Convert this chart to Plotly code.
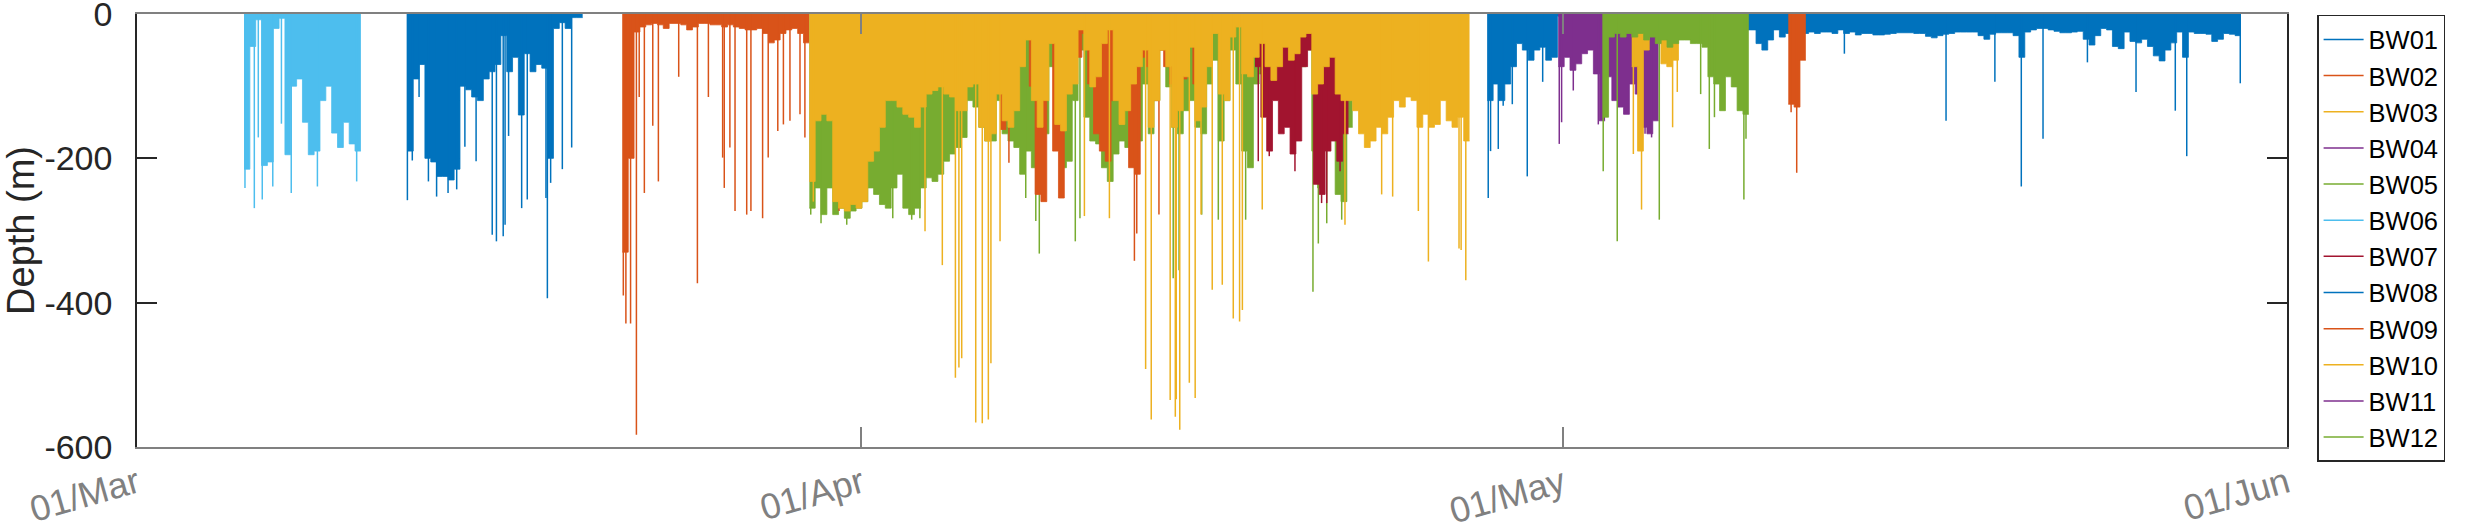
import plotly.graph_objects as go
from datetime import datetime, timedelta

# ---------------- data (days since 01/Mar, depth in m) ----------------
ORIGIN = datetime(2019, 3, 1)
BIN_DAYS = 0.25          # sampling interval of the dive-depth envelopes
X_TICKS = ["2019-03-01", "2019-04-01", "2019-05-01", "2019-06-01"]
Y_TICKS = [0, -200, -400, -600]
Y_TICK_TEXT = ["0", "-200", "-400", "-600"]

SERIES = ["BW01", "BW02", "BW03", "BW04", "BW05", "BW06",
          "BW07", "BW08", "BW09", "BW10", "BW11", "BW12"]
COLORS = ["#0072BD", "#D95319", "#EDB120", "#7E2F8E", "#77AC30", "#4DBEEE",
          "#A2142F", "#0072BD", "#D95319", "#EDB120", "#7E2F8E", "#77AC30"]

BW06_SEG_START = [4.58]
BW06_SEG_DEPTH = [[215, 45, 8, 210, 205, 20, 6, 195, 100, 90, 150, 195, 190, 120,
                   100, 165, 185, 150, 180, 190]]
BW06_SPIKE_DAY = [4.62, 5.02, 5.19, 5.36, 5.81, 6.18, 6.60, 7.72, 9.40]
BW06_SPIKE_DEPTH = [241, 269, 171, 257, 239, 152, 248, 239, 232]

BW01_SEG_START = [11.57]
BW01_SEG_DEPTH = [[190, 90, 70, 200, 205, 225, 225, 230, 215, 100, 105, 115, 120, 90,
                   80, 70, 30, 80, 60, 140, 55, 80, 70, 75, 200, 20, 12, 20, 5, 5]]
BW01_SPIKE_DAY = [11.57, 11.78, 12.07, 12.47, 12.82, 13.31, 13.68, 14.03, 14.51, 15.20,
                  15.38, 15.67, 15.75, 15.90, 16.46, 16.70, 17.50, 17.56, 17.70, 18.20, 18.60]
BW01_SPIKE_DEPTH = [258, 203, 115, 232, 253, 248, 243, 184, 204, 306,
                    315, 308, 292, 169, 269, 257, 255, 394, 234, 215, 185]

BW02_SEG_START = [20.77]
BW02_SEG_DEPTH = [[330, 200, 25, 18, 15, 13, 15, 20, 13, 13, 15, 22, 18, 13, 13, 15,
                   15, 18, 15, 18, 20, 22, 22, 20, 27, 40, 36, 27, 22, 20, 27, 40]]
BW02_SPIKE_DAY = [20.81, 20.92, 21.12, 21.37, 21.49, 21.71, 22.07, 22.31, 23.18, 23.98,
                  24.45, 25.06, 25.13, 25.37, 25.59, 26.09, 26.27, 26.77, 27.01, 27.42,
                  27.66, 27.94, 28.37, 28.58]
BW02_SPIKE_DEPTH = [390, 429, 429, 583, 115, 248, 155, 232, 87, 373,
                    115, 199, 241, 185, 273, 278, 273, 283, 199, 162,
                    153, 148, 139, 171]

BW05_SEG_START = [28.77]
BW05_SEG_DEPTH = [[269, 241, 278, 241, 278, 269, 283, 273, 269, 260, 241, 250, 264, 269,
                   241, 222, 269, 278, 269, 241, 227, 232, 222, 204, 194, 185, 171, 120,
                   129, 157, 176, 176, 120, 166, 176, 185, 222, 190, 213, 204, 166, 73,
                   180, 213, 204, 120, 50, 143, 176, 180, 213, 232, 194, 176, 185, 204,
                   176, 97, 166, 120, 50, 101, 157, 166, 134, 120, 157, 166, 97, 64,
                   176, 120, 50, 97, 190, 213, 97, 83, 106, 101, 87, 73, 73, 97, 73,
                   50, 190, 241, 185, 166, 250, 260, 157]]
BW05_SPIKE_DAY = [28.83, 29.27, 30.37, 32.34, 33.15, 33.50, 38.03, 38.46, 38.61, 40.15,
                  40.35, 44.34, 44.59, 45.56, 46.27, 47.44, 50.32, 50.55, 50.91, 51.55]
BW05_SPIKE_DEPTH = [278, 290, 292, 283, 285, 283, 255, 287, 332, 315,
                    283, 366, 355, 278, 285, 285, 385, 318, 290, 285]

BW07_SEG_START = [47.84]
BW07_SEG_DEPTH = [[73, 143, 190, 120, 166, 157, 194, 176, 73, 50, 236, 250, 190, 176, 204, 166]]
BW07_SPIKE_DAY = [47.98, 48.45, 49.55, 50.69, 50.91, 51.48]
BW07_SPIKE_DEPTH = [204, 197, 218, 262, 262, 218]

BW09_SEG_START = [36.93, 70.66]
BW09_SEG_DEPTH = [[160, 73, 50, 27, 27, 100, 250, 260, 30, 190, 255, 73, 50, 60, 27, 97,
                   166, 190, 204, 120, 73, 120, 213, 222, 60, 73, 120, 50, 73, 97, 120,
                   90, 40, 97],
                  [125, 129, 64]]
BW09_SPIKE_DAY = [30.04, 31.18, 37.31, 42.68, 42.78, 43.73, 70.78, 71.02]
BW09_SPIKE_DEPTH = [273, 180, 206, 342, 304, 278, 136, 220]

BW10_SEG_START = [28.77]
BW10_SEG_DEPTH = [[232, 148, 139, 148, 260, 269, 273, 264, 269, 260, 204, 190, 157, 120,
                   120, 129, 139, 143, 157, 129, 111, 106, 101, 111, 115, 134, 134, 101,
                   97, 157, 176, 166, 111,
                   148, 157, 134, 73, 36, 120, 157, 120, 41, 153, 162, 111, 97, 22, 50,
                   101, 87, 41, 22, 120, 153, 134, 97, 73, 50, 157, 120, 50, 73, 157,
                   134, 87, 46, 148, 129, 73, 27, 111, 120, 32, 18, 83, 87, 60, 41, 73,
                   92, 73, 46, 64, 55, 32, 27, 111, 97, 73, 60, 111, 120, 120, 134, 166,
                   185, 176, 157, 166, 143, 120, 129, 115, 120, 157, 139, 157, 153, 120,
                   148, 157, 143, 176]]
BW10_SPIKE_DAY = [28.94, 33.72, 34.46, 35.02, 35.17, 35.29, 35.89, 36.17, 36.43, 36.54,
                  36.93, 40.54, 41.61, 43.16, 43.40, 44.21, 44.43, 44.47, 44.62, 45.03,
                  45.28, 45.53, 46.01, 46.44, 46.91, 47.18, 47.30, 48.15, 51.69, 53.26,
                  53.73, 54.83, 55.26, 56.57, 56.66, 56.86]
BW10_SPIKE_DEPTH = [260, 301, 348, 504, 490, 477, 566, 567, 562, 484,
                    315, 280, 283, 492, 562, 535, 558, 534, 576, 511,
                    532, 278, 382, 375, 422, 426, 410, 271, 292, 250,
                    253, 273, 343, 325, 327, 369]

BW08_SEG_START = [57.78]
BW08_SEG_DEPTH = [[120, 97, 120, 97, 73, 41, 50, 64, 50, 46, 64, 60,
                   3, 3, 3, 3, 3, 3, 3, 3, 3, 3, 3, 3, 3, 3, 3, 3,
                   3, 3, 3, 3, 3, 3, 3, 3, 3, 3, 3, 3, 3, 3, 3, 3,
                   22, 22, 41, 50, 36, 22, 32, 27, 18, 22, 27, 25, 27, 25, 25, 27,
                   22, 27, 25, 29,
                   27, 27, 29, 29, 28, 27, 26, 26, 26, 27, 27, 31, 33, 30, 28, 27,
                   25, 25, 25, 25, 30, 35, 28, 26, 26, 26, 30, 60, 25, 22, 20, 20,
                   22, 24, 26, 26, 25, 24, 35, 43, 30, 20, 22, 45, 48, 25, 38, 40,
                   35, 45, 58, 65, 50, 40, 25, 60, 25, 27, 27, 28, 38, 35, 27, 28, 30]]
BW08_SPIKE_DAY = [57.82, 57.92, 58.25, 58.46, 58.85, 59.49, 60.15, 73.06, 77.41, 79.50,
                  80.63, 81.56, 83.46, 85.54, 87.22, 87.71, 90.00]
BW08_SPIKE_DEPTH = [255, 190, 187, 127, 125, 225, 94, 55, 148, 94,
                    239, 173, 67, 108, 134, 197, 96]

BW04_SEG_START = [60.82]
BW04_SEG_DEPTH = [[73, 60, 78, 69, 55, 50, 83, 148]]
BW04_SPIKE_DAY = [60.86, 60.96, 61.46, 62.53]
BW04_SPIKE_DEPTH = [180, 150, 106, 153]

BW11_SEG_START = [62.86]
BW11_SEG_DEPTH = [[87, 120, 129, 139, 97, 111, 157, 166, 148]]
BW11_SPIKE_DAY = [64.53, 64.81]
BW11_SPIKE_DEPTH = [166, 171]

BW03_SEG_START = [63.96]
BW03_SEG_DEPTH = [[73, 190, 50, 8, 8, 69, 73, 64, 27, 8, 36]]
BW03_SPIKE_DAY = [64.03, 64.38, 65.71, 65.91]
BW03_SPIKE_DEPTH = [194, 271, 157, 108]

BW12_SEG_START = [62.72]
BW12_SEG_DEPTH = [[143, 32, 27, 32, 27, 32, 27, 36, 32, 41, 36, 46, 41, 36, 36, 41, 41,
                   46, 87, 97, 134, 87, 101, 134, 139]]
BW12_SPIKE_DAY = [62.74, 63.34, 65.14, 66.91, 67.28, 67.50, 68.76, 68.85]
BW12_SPIKE_DEPTH = [218, 315, 285, 111, 187, 143, 257, 173]

DATA = {
    "BW01": (BW01_SEG_START, BW01_SEG_DEPTH, BW01_SPIKE_DAY, BW01_SPIKE_DEPTH),
    "BW02": (BW02_SEG_START, BW02_SEG_DEPTH, BW02_SPIKE_DAY, BW02_SPIKE_DEPTH),
    "BW03": (BW03_SEG_START, BW03_SEG_DEPTH, BW03_SPIKE_DAY, BW03_SPIKE_DEPTH),
    "BW04": (BW04_SEG_START, BW04_SEG_DEPTH, BW04_SPIKE_DAY, BW04_SPIKE_DEPTH),
    "BW05": (BW05_SEG_START, BW05_SEG_DEPTH, BW05_SPIKE_DAY, BW05_SPIKE_DEPTH),
    "BW06": (BW06_SEG_START, BW06_SEG_DEPTH, BW06_SPIKE_DAY, BW06_SPIKE_DEPTH),
    "BW07": (BW07_SEG_START, BW07_SEG_DEPTH, BW07_SPIKE_DAY, BW07_SPIKE_DEPTH),
    "BW08": (BW08_SEG_START, BW08_SEG_DEPTH, BW08_SPIKE_DAY, BW08_SPIKE_DEPTH),
    "BW09": (BW09_SEG_START, BW09_SEG_DEPTH, BW09_SPIKE_DAY, BW09_SPIKE_DEPTH),
    "BW10": (BW10_SEG_START, BW10_SEG_DEPTH, BW10_SPIKE_DAY, BW10_SPIKE_DEPTH),
    "BW11": (BW11_SEG_START, BW11_SEG_DEPTH, BW11_SPIKE_DAY, BW11_SPIKE_DEPTH),
    "BW12": (BW12_SEG_START, BW12_SEG_DEPTH, BW12_SPIKE_DAY, BW12_SPIKE_DEPTH),
}

# drawing order (bottom to top); legend order comes from SERIES
DRAW_ORDER = ["BW06", "BW01", "BW02", "BW05", "BW08", "BW09", "BW07", "BW10",
              "BW04", "BW11", "BW03", "BW12"]


def T(d):
    return ORIGIN + timedelta(days=d)


FONT = "Liberation Sans, Arial, Helvetica, sans-serif"
fig = go.Figure()

for name in DRAW_ORDER:
    idx = SERIES.index(name)
    color = COLORS[idx]
    starts, segs, sdays, sdepths = DATA[name]
    for s, seg in zip(starts, segs):
        xs = [T(s + i * BIN_DAYS) for i in range(len(seg) + 1)]
        ys = [-v for v in seg] + [-seg[-1]]
        fig.add_trace(go.Scatter(
            x=xs, y=ys, mode="lines", line=dict(color=color, width=0.8, shape="hv"),
            fill="tozeroy", fillcolor=color, showlegend=False, hoverinfo="skip"))
    sx, sy = [], []
    for d, v in zip(sdays, sdepths):
        sx += [T(d), T(d), None]
        sy += [0, -v, None]
    fig.add_trace(go.Scatter(
        x=sx, y=sy, mode="lines", line=dict(color=color, width=1.5),
        name=name, legendrank=idx + 1, showlegend=True, hoverinfo="skip"))

fig.update_layout(
    width=2483, height=528,
    margin=dict(l=137, r=196, t=14, b=81, autoexpand=False),
    paper_bgcolor="white", plot_bgcolor="white",
    font=dict(family=FONT, color="#262626"),
    showlegend=True,
    legend=dict(
        x=1.0140, xanchor="left", y=0.998, yanchor="top",
        bordercolor="#262626", borderwidth=1.5, bgcolor="white",
        font=dict(family=FONT, size=25.5, color="#000000"),
        tracegroupgap=0, itemwidth=40, entrywidth=118, maxheight=510,
    ),
)

fig.update_xaxes(
    type="date", range=[X_TICKS[0], X_TICKS[-1]],
    tickvals=X_TICKS, tickformat="%d/%b", tickangle=-16,
    tickfont=dict(family=FONT, size=36, color="#808080"),
    showline=True, linecolor="#808080", linewidth=1.5, mirror="ticks",
    ticks="inside", ticklen=20, tickcolor="#808080", tickwidth=1.5,
    showgrid=False, zeroline=False, ticklabelstandoff=0,
    ticklabeloverflow="allow", automargin=False,
)
fig.update_yaxes(
    range=[-600, 0], tickvals=Y_TICKS, ticktext=Y_TICK_TEXT,
    tickfont=dict(family=FONT, size=34, color="#262626"),
    showline=True, linecolor="#262626", linewidth=1.5, mirror="ticks",
    ticks="inside", ticklen=20, tickcolor="#262626", tickwidth=1.5,
    showgrid=False, zeroline=False, ticklabelstandoff=16,
    ticklabeloverflow="allow", automargin=False,
    title=dict(text="Depth (m)", font=dict(family=FONT, size=38, color="#262626"),
               standoff=10),
)

fig.write_html(
    "out.html",
    config={"displayModeBar": False},
    post_script="document.body.style.margin='0';document.body.style.overflow='hidden';",
)
